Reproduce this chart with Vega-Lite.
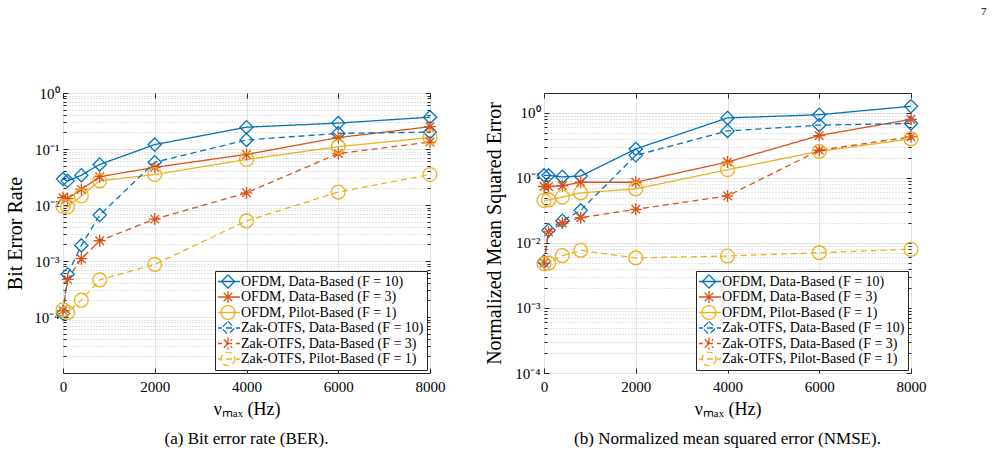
{
  "$schema": "https://vega.github.io/schema/vega-lite/v6.json",
  "background": "white",
  "padding": {"left": 4, "top": 5, "right": 5, "bottom": 5},
  "title": {"text": "7", "anchor": "end", "fontSize": 11, "font": "Liberation Serif", "fontWeight": "normal", "color": "black", "dx": 60, "offset": 69},
  "datasets": {
    "ber": [
      {"s": "OFDM, Data-Based (F = 10)", "x": 0, "v": 0.029},
      {"s": "OFDM, Data-Based (F = 10)", "x": 100, "v": 0.027},
      {"s": "OFDM, Data-Based (F = 10)", "x": 400, "v": 0.034},
      {"s": "OFDM, Data-Based (F = 10)", "x": 800, "v": 0.053},
      {"s": "OFDM, Data-Based (F = 10)", "x": 2000, "v": 0.12},
      {"s": "OFDM, Data-Based (F = 10)", "x": 4000, "v": 0.245},
      {"s": "OFDM, Data-Based (F = 10)", "x": 6000, "v": 0.29},
      {"s": "OFDM, Data-Based (F = 10)", "x": 8000, "v": 0.37},
      {"s": "OFDM, Data-Based (F = 3)", "x": 0, "v": 0.0135},
      {"s": "OFDM, Data-Based (F = 3)", "x": 100, "v": 0.013},
      {"s": "OFDM, Data-Based (F = 3)", "x": 400, "v": 0.019},
      {"s": "OFDM, Data-Based (F = 3)", "x": 800, "v": 0.032},
      {"s": "OFDM, Data-Based (F = 3)", "x": 2000, "v": 0.047},
      {"s": "OFDM, Data-Based (F = 3)", "x": 4000, "v": 0.08},
      {"s": "OFDM, Data-Based (F = 3)", "x": 6000, "v": 0.16},
      {"s": "OFDM, Data-Based (F = 3)", "x": 8000, "v": 0.25},
      {"s": "OFDM, Pilot-Based (F = 1)", "x": 0, "v": 0.0095},
      {"s": "OFDM, Pilot-Based (F = 1)", "x": 100, "v": 0.0093},
      {"s": "OFDM, Pilot-Based (F = 1)", "x": 400, "v": 0.0145},
      {"s": "OFDM, Pilot-Based (F = 1)", "x": 800, "v": 0.027},
      {"s": "OFDM, Pilot-Based (F = 1)", "x": 2000, "v": 0.035},
      {"s": "OFDM, Pilot-Based (F = 1)", "x": 4000, "v": 0.065},
      {"s": "OFDM, Pilot-Based (F = 1)", "x": 6000, "v": 0.11},
      {"s": "OFDM, Pilot-Based (F = 1)", "x": 8000, "v": 0.16},
      {"s": "Zak-OTFS, Data-Based (F = 10)", "x": 0, "v": 0.000115},
      {"s": "Zak-OTFS, Data-Based (F = 10)", "x": 100, "v": 0.00058},
      {"s": "Zak-OTFS, Data-Based (F = 10)", "x": 400, "v": 0.0019},
      {"s": "Zak-OTFS, Data-Based (F = 10)", "x": 800, "v": 0.0066},
      {"s": "Zak-OTFS, Data-Based (F = 10)", "x": 2000, "v": 0.058},
      {"s": "Zak-OTFS, Data-Based (F = 10)", "x": 4000, "v": 0.145},
      {"s": "Zak-OTFS, Data-Based (F = 10)", "x": 6000, "v": 0.19},
      {"s": "Zak-OTFS, Data-Based (F = 10)", "x": 8000, "v": 0.2},
      {"s": "Zak-OTFS, Data-Based (F = 3)", "x": 0, "v": 0.00013},
      {"s": "Zak-OTFS, Data-Based (F = 3)", "x": 100, "v": 0.00047},
      {"s": "Zak-OTFS, Data-Based (F = 3)", "x": 400, "v": 0.0011},
      {"s": "Zak-OTFS, Data-Based (F = 3)", "x": 800, "v": 0.0023},
      {"s": "Zak-OTFS, Data-Based (F = 3)", "x": 2000, "v": 0.0056},
      {"s": "Zak-OTFS, Data-Based (F = 3)", "x": 4000, "v": 0.0165},
      {"s": "Zak-OTFS, Data-Based (F = 3)", "x": 6000, "v": 0.083},
      {"s": "Zak-OTFS, Data-Based (F = 3)", "x": 8000, "v": 0.133},
      {"s": "Zak-OTFS, Pilot-Based (F = 1)", "x": 0, "v": 0.000135},
      {"s": "Zak-OTFS, Pilot-Based (F = 1)", "x": 100, "v": 0.00012},
      {"s": "Zak-OTFS, Pilot-Based (F = 1)", "x": 400, "v": 0.0002},
      {"s": "Zak-OTFS, Pilot-Based (F = 1)", "x": 800, "v": 0.00046},
      {"s": "Zak-OTFS, Pilot-Based (F = 1)", "x": 2000, "v": 0.00087},
      {"s": "Zak-OTFS, Pilot-Based (F = 1)", "x": 4000, "v": 0.0052},
      {"s": "Zak-OTFS, Pilot-Based (F = 1)", "x": 6000, "v": 0.017},
      {"s": "Zak-OTFS, Pilot-Based (F = 1)", "x": 8000, "v": 0.035}
    ],
    "nmse": [
      {"s": "OFDM, Data-Based (F = 10)", "x": 0, "v": 0.11},
      {"s": "OFDM, Data-Based (F = 10)", "x": 100, "v": 0.11},
      {"s": "OFDM, Data-Based (F = 10)", "x": 400, "v": 0.104},
      {"s": "OFDM, Data-Based (F = 10)", "x": 800, "v": 0.107},
      {"s": "OFDM, Data-Based (F = 10)", "x": 2000, "v": 0.28},
      {"s": "OFDM, Data-Based (F = 10)", "x": 4000, "v": 0.84},
      {"s": "OFDM, Data-Based (F = 10)", "x": 6000, "v": 0.94},
      {"s": "OFDM, Data-Based (F = 10)", "x": 8000, "v": 1.27},
      {"s": "OFDM, Data-Based (F = 3)", "x": 0, "v": 0.074},
      {"s": "OFDM, Data-Based (F = 3)", "x": 100, "v": 0.074},
      {"s": "OFDM, Data-Based (F = 3)", "x": 400, "v": 0.076},
      {"s": "OFDM, Data-Based (F = 3)", "x": 800, "v": 0.086},
      {"s": "OFDM, Data-Based (F = 3)", "x": 2000, "v": 0.086},
      {"s": "OFDM, Data-Based (F = 3)", "x": 4000, "v": 0.176},
      {"s": "OFDM, Data-Based (F = 3)", "x": 6000, "v": 0.45},
      {"s": "OFDM, Data-Based (F = 3)", "x": 8000, "v": 0.8},
      {"s": "OFDM, Pilot-Based (F = 1)", "x": 0, "v": 0.045},
      {"s": "OFDM, Pilot-Based (F = 1)", "x": 100, "v": 0.046},
      {"s": "OFDM, Pilot-Based (F = 1)", "x": 400, "v": 0.051},
      {"s": "OFDM, Pilot-Based (F = 1)", "x": 800, "v": 0.059},
      {"s": "OFDM, Pilot-Based (F = 1)", "x": 2000, "v": 0.068},
      {"s": "OFDM, Pilot-Based (F = 1)", "x": 4000, "v": 0.134},
      {"s": "OFDM, Pilot-Based (F = 1)", "x": 6000, "v": 0.257},
      {"s": "OFDM, Pilot-Based (F = 1)", "x": 8000, "v": 0.4},
      {"s": "Zak-OTFS, Data-Based (F = 10)", "x": 0, "v": 0.0052},
      {"s": "Zak-OTFS, Data-Based (F = 10)", "x": 100, "v": 0.0157},
      {"s": "Zak-OTFS, Data-Based (F = 10)", "x": 400, "v": 0.022},
      {"s": "Zak-OTFS, Data-Based (F = 10)", "x": 800, "v": 0.0318},
      {"s": "Zak-OTFS, Data-Based (F = 10)", "x": 2000, "v": 0.223},
      {"s": "Zak-OTFS, Data-Based (F = 10)", "x": 4000, "v": 0.53},
      {"s": "Zak-OTFS, Data-Based (F = 10)", "x": 6000, "v": 0.65},
      {"s": "Zak-OTFS, Data-Based (F = 10)", "x": 8000, "v": 0.69},
      {"s": "Zak-OTFS, Data-Based (F = 3)", "x": 0, "v": 0.0049},
      {"s": "Zak-OTFS, Data-Based (F = 3)", "x": 100, "v": 0.0148},
      {"s": "Zak-OTFS, Data-Based (F = 3)", "x": 400, "v": 0.0203},
      {"s": "Zak-OTFS, Data-Based (F = 3)", "x": 800, "v": 0.0245},
      {"s": "Zak-OTFS, Data-Based (F = 3)", "x": 2000, "v": 0.033},
      {"s": "Zak-OTFS, Data-Based (F = 3)", "x": 4000, "v": 0.053},
      {"s": "Zak-OTFS, Data-Based (F = 3)", "x": 6000, "v": 0.267},
      {"s": "Zak-OTFS, Data-Based (F = 3)", "x": 8000, "v": 0.43},
      {"s": "Zak-OTFS, Pilot-Based (F = 1)", "x": 0, "v": 0.0048},
      {"s": "Zak-OTFS, Pilot-Based (F = 1)", "x": 100, "v": 0.0049},
      {"s": "Zak-OTFS, Pilot-Based (F = 1)", "x": 400, "v": 0.0064},
      {"s": "Zak-OTFS, Pilot-Based (F = 1)", "x": 800, "v": 0.0077},
      {"s": "Zak-OTFS, Pilot-Based (F = 1)", "x": 2000, "v": 0.0059},
      {"s": "Zak-OTFS, Pilot-Based (F = 1)", "x": 4000, "v": 0.0063},
      {"s": "Zak-OTFS, Pilot-Based (F = 1)", "x": 6000, "v": 0.0071},
      {"s": "Zak-OTFS, Pilot-Based (F = 1)", "x": 8000, "v": 0.008}
    ]
  },
  "spacing": 37,
  "hconcat": [
    {
      "width": 367,
      "height": 280,
      "data": {"name": "ber"},
      "title": {"text": "(a) Bit error rate (BER).", "orient": "bottom", "anchor": "middle", "frame": "group", "fontSize": 17, "font": "Liberation Serif", "fontWeight": "normal", "color": "black", "offset": 13},
      "layer": [
        {
          "mark": {"type": "line", "strokeWidth": 1.3, "clip": false},
          "encoding": {
            "x": {"field": "x", "type": "quantitative", "scale": {"domain": [0, 8000], "nice": false, "zero": false},
              "axis": {"orient": "bottom", "values": [0, 2000, 4000, 6000, 8000], "format": "d", "title": "νₘₐₓ (Hz)", "grid": true, "gridColor": "#e3e3e3", "tickSize": -5, "labelPadding": 11, "titlePadding": 6, "labelFont": "Liberation Serif", "titleFont": "Liberation Serif"}},
            "y": {"field": "v", "type": "quantitative", "scale": {"type": "log", "domain": [0.00001, 1], "nice": false},
              "axis": {"orient": "left", "title": "Bit Error Rate", "labelFont": "Liberation Serif", "titleFont": "Liberation Serif", "titleFontSize": 20,
                "values": [0.00002, 0.00003, 0.00004, 0.00005, 0.00006, 0.00007, 0.00008, 0.00009, 0.0001, 0.0002, 0.0003, 0.0004, 0.0005, 0.0006, 0.0007, 0.0008, 0.0009, 0.001, 0.002, 0.003, 0.004, 0.005, 0.006, 0.007, 0.008, 0.009, 0.01, 0.02, 0.03, 0.04, 0.05, 0.06, 0.07, 0.08, 0.09, 0.1, 0.2, 0.3, 0.4, 0.5, 0.6, 0.7, 0.8, 0.9, 1],
                "labelExpr": "datum.value == 1 ? '10⁰' : datum.value == 0.1 ? '10⁻¹' : datum.value == 0.01 ? '10⁻²' : datum.value == 0.001 ? '10⁻³' : datum.value == 0.0001 ? '10⁻⁴' : ''",
                "grid": true,
                "gridColor": {"condition": {"test": "abs(log(datum.value)/LN10 - round(log(datum.value)/LN10)) < 0.001", "value": "#e3e3e3"}, "value": "#c8c8c8"},
                "gridDash": {"condition": {"test": "abs(log(datum.value)/LN10 - round(log(datum.value)/LN10)) < 0.001", "value": []}, "value": [1, 2]},
                "tickSize": {"condition": {"test": "abs(log(datum.value)/LN10 - round(log(datum.value)/LN10)) < 0.001", "value": -5}, "value": -3},
                "labelPadding": 9, "minExtent": 28, "maxExtent": 28, "titlePadding": 10}},
            "color": {"field": "s", "type": "nominal",
              "scale": {"domain": ["OFDM, Data-Based (F = 10)", "OFDM, Data-Based (F = 3)", "OFDM, Pilot-Based (F = 1)", "Zak-OTFS, Data-Based (F = 10)", "Zak-OTFS, Data-Based (F = 3)", "Zak-OTFS, Pilot-Based (F = 1)"], "range": ["#0072BD", "#D95319", "#EDB120", "#0072BD", "#D95319", "#EDB120"]},
              "legend": {"title": null, "orient": "bottom-right", "offset": 3, "labelFont": "Liberation Serif",
                "encode": {"symbols": {"update": {"fill": {"value": "transparent"}, "strokeWidth": {"value": 1.3}}}}}},
            "strokeDash": {"field": "s", "type": "nominal",
              "scale": {"domain": ["OFDM, Data-Based (F = 10)", "OFDM, Data-Based (F = 3)", "OFDM, Pilot-Based (F = 1)", "Zak-OTFS, Data-Based (F = 10)", "Zak-OTFS, Data-Based (F = 3)", "Zak-OTFS, Pilot-Based (F = 1)"], "range": [[1, 0], [1, 0], [1, 0], [6, 4], [6, 4], [6, 4]]},
              "legend": {"title": null, "orient": "bottom-right", "offset": 3, "labelFont": "Liberation Serif",
                "encode": {"symbols": {"update": {"fill": {"value": "transparent"}, "strokeWidth": {"value": 1.3}}}}}}
          }
        },
        {
          "transform": [{"filter": "indexof(datum.s, '10)') > 0"}],
          "mark": {"type": "point", "filled": false, "strokeWidth": 1.3, "opacity": 1, "size": 144, "clip": false, "shape": "M0,-1.1L1.1,0L0,1.1L-1.1,0Z"},
          "encoding": {
            "x": {"field": "x", "type": "quantitative",
              "axis": {"orient": "top", "values": [0, 2000, 4000, 6000, 8000], "labels": false, "title": null, "grid": false, "tickSize": -5}},
            "y": {"field": "v", "type": "quantitative",
              "axis": {"orient": "right", "title": null, "labels": false, "grid": false,
                "values": [0.00002, 0.00003, 0.00004, 0.00005, 0.00006, 0.00007, 0.00008, 0.00009, 0.0001, 0.0002, 0.0003, 0.0004, 0.0005, 0.0006, 0.0007, 0.0008, 0.0009, 0.001, 0.002, 0.003, 0.004, 0.005, 0.006, 0.007, 0.008, 0.009, 0.01, 0.02, 0.03, 0.04, 0.05, 0.06, 0.07, 0.08, 0.09, 0.1, 0.2, 0.3, 0.4, 0.5, 0.6, 0.7, 0.8, 0.9, 1],
                "tickSize": {"condition": {"test": "abs(log(datum.value)/LN10 - round(log(datum.value)/LN10)) < 0.001", "value": -5}, "value": -3}}},
            "color": {"field": "s", "type": "nominal"}
          }
        },
        {
          "transform": [{"filter": "indexof(datum.s, '3)') > 0"}],
          "mark": {"type": "point", "filled": false, "strokeWidth": 1.3, "opacity": 1, "size": 144, "clip": false, "shape": "M0,-1V1M-1,0H1M-0.71,-0.71L0.71,0.71M-0.71,0.71L0.71,-0.71"},
          "encoding": {
            "x": {"field": "x", "type": "quantitative", "axis": null},
            "y": {"field": "v", "type": "quantitative", "axis": null},
            "color": {"field": "s", "type": "nominal"}
          }
        },
        {
          "transform": [{"filter": "indexof(datum.s, '1)') > 0 && indexof(datum.s, '10)') < 0"}],
          "mark": {"type": "point", "filled": false, "strokeWidth": 1.3, "opacity": 1, "size": 144, "clip": false, "shape": "M1.15,0A1.15,1.15,0,1,1,-1.15,0A1.15,1.15,0,1,1,1.15,0Z"},
          "encoding": {
            "x": {"field": "x", "type": "quantitative", "axis": null},
            "y": {"field": "v", "type": "quantitative", "axis": null},
            "color": {"field": "s", "type": "nominal"}
          }
        },
        {
          "transform": [{"filter": "false"}],
          "mark": {"type": "point", "filled": false, "strokeWidth": 1.3, "size": 144, "clip": false},
          "encoding": {
            "x": {"field": "x", "type": "quantitative", "axis": null},
            "y": {"field": "v", "type": "quantitative", "axis": null},
            "color": {"field": "s", "type": "nominal"},
            "shape": {"field": "s", "type": "nominal",
              "scale": {"domain": ["OFDM, Data-Based (F = 10)", "OFDM, Data-Based (F = 3)", "OFDM, Pilot-Based (F = 1)", "Zak-OTFS, Data-Based (F = 10)", "Zak-OTFS, Data-Based (F = 3)", "Zak-OTFS, Pilot-Based (F = 1)"], "range": ["M-2,0H2M0,-1.1L1.1,0L0,1.1L-1.1,0Z", "M-2,0H2M0,-1V1M-0.71,-0.71L0.71,0.71M-0.71,0.71L0.71,-0.71", "M-2,0H2M1.15,0A1.15,1.15,0,1,1,-1.15,0A1.15,1.15,0,1,1,1.15,0Z", "M-2,0H2M0,-1.1L1.1,0L0,1.1L-1.1,0Z", "M-2,0H2M0,-1V1M-0.71,-0.71L0.71,0.71M-0.71,0.71L0.71,-0.71", "M-2,0H2M1.15,0A1.15,1.15,0,1,1,-1.15,0A1.15,1.15,0,1,1,1.15,0Z"]},
              "legend": {"title": null, "orient": "bottom-right", "offset": 3, "labelFont": "Liberation Serif",
                "encode": {"symbols": {"update": {"fill": {"value": "transparent"}, "strokeWidth": {"value": 1.3}}}}}}
          }
        }
      ],
      "resolve": {"axis": {"x": "independent", "y": "independent"}}
    },
    {
      "width": 367,
      "height": 280,
      "data": {"name": "nmse"},
      "title": {"text": "(b) Normalized mean squared error (NMSE).", "orient": "bottom", "anchor": "middle", "frame": "group", "fontSize": 17, "font": "Liberation Serif", "fontWeight": "normal", "color": "black", "offset": 13},
      "layer": [
        {
          "mark": {"type": "line", "strokeWidth": 1.3, "clip": false},
          "encoding": {
            "x": {"field": "x", "type": "quantitative", "scale": {"domain": [0, 8000], "nice": false, "zero": false},
              "axis": {"orient": "bottom", "values": [0, 2000, 4000, 6000, 8000], "format": "d", "title": "νₘₐₓ (Hz)", "grid": true, "gridColor": "#e3e3e3", "tickSize": -5, "labelPadding": 11, "titlePadding": 6, "labelFont": "Liberation Serif", "titleFont": "Liberation Serif"}},
            "y": {"field": "v", "type": "quantitative", "scale": {"type": "log", "domain": [0.0001, 2.03], "nice": false},
              "axis": {"orient": "left", "title": "Normalized Mean Squared Error", "labelFont": "Liberation Serif", "titleFont": "Liberation Serif", "titleFontSize": 20,
                "values": [0.0001, 0.0002, 0.0003, 0.0004, 0.0005, 0.0006, 0.0007, 0.0008, 0.0009, 0.001, 0.002, 0.003, 0.004, 0.005, 0.006, 0.007, 0.008, 0.009, 0.01, 0.02, 0.03, 0.04, 0.05, 0.06, 0.07, 0.08, 0.09, 0.1, 0.2, 0.3, 0.4, 0.5, 0.6, 0.7, 0.8, 0.9, 1],
                "labelExpr": "datum.value == 1 ? '10⁰' : datum.value == 0.1 ? '10⁻¹' : datum.value == 0.01 ? '10⁻²' : datum.value == 0.001 ? '10⁻³' : datum.value == 0.0001 ? '10⁻⁴' : ''",
                "grid": true,
                "gridColor": {"condition": {"test": "abs(log(datum.value)/LN10 - round(log(datum.value)/LN10)) < 0.001", "value": "#e3e3e3"}, "value": "#c8c8c8"},
                "gridDash": {"condition": {"test": "abs(log(datum.value)/LN10 - round(log(datum.value)/LN10)) < 0.001", "value": []}, "value": [1, 2]},
                "tickSize": {"condition": {"test": "abs(log(datum.value)/LN10 - round(log(datum.value)/LN10)) < 0.001", "value": -5}, "value": -3},
                "labelPadding": 9, "minExtent": 28, "maxExtent": 28, "titlePadding": 12}},
            "color": {"field": "s", "type": "nominal",
              "scale": {"domain": ["OFDM, Data-Based (F = 10)", "OFDM, Data-Based (F = 3)", "OFDM, Pilot-Based (F = 1)", "Zak-OTFS, Data-Based (F = 10)", "Zak-OTFS, Data-Based (F = 3)", "Zak-OTFS, Pilot-Based (F = 1)"], "range": ["#0072BD", "#D95319", "#EDB120", "#0072BD", "#D95319", "#EDB120"]},
              "legend": {"title": null, "orient": "bottom-right", "offset": 3, "labelFont": "Liberation Serif",
                "encode": {"symbols": {"update": {"fill": {"value": "transparent"}, "strokeWidth": {"value": 1.3}}}}}},
            "strokeDash": {"field": "s", "type": "nominal",
              "scale": {"domain": ["OFDM, Data-Based (F = 10)", "OFDM, Data-Based (F = 3)", "OFDM, Pilot-Based (F = 1)", "Zak-OTFS, Data-Based (F = 10)", "Zak-OTFS, Data-Based (F = 3)", "Zak-OTFS, Pilot-Based (F = 1)"], "range": [[1, 0], [1, 0], [1, 0], [6, 4], [6, 4], [6, 4]]},
              "legend": {"title": null, "orient": "bottom-right", "offset": 3, "labelFont": "Liberation Serif",
                "encode": {"symbols": {"update": {"fill": {"value": "transparent"}, "strokeWidth": {"value": 1.3}}}}}}
          }
        },
        {
          "transform": [{"filter": "indexof(datum.s, '10)') > 0"}],
          "mark": {"type": "point", "filled": false, "strokeWidth": 1.3, "opacity": 1, "size": 144, "clip": false, "shape": "M0,-1.1L1.1,0L0,1.1L-1.1,0Z"},
          "encoding": {
            "x": {"field": "x", "type": "quantitative",
              "axis": {"orient": "top", "values": [0, 2000, 4000, 6000, 8000], "labels": false, "title": null, "grid": false, "tickSize": -5}},
            "y": {"field": "v", "type": "quantitative",
              "axis": {"orient": "right", "title": null, "labels": false, "grid": false,
                "values": [0.0001, 0.0002, 0.0003, 0.0004, 0.0005, 0.0006, 0.0007, 0.0008, 0.0009, 0.001, 0.002, 0.003, 0.004, 0.005, 0.006, 0.007, 0.008, 0.009, 0.01, 0.02, 0.03, 0.04, 0.05, 0.06, 0.07, 0.08, 0.09, 0.1, 0.2, 0.3, 0.4, 0.5, 0.6, 0.7, 0.8, 0.9, 1],
                "tickSize": {"condition": {"test": "abs(log(datum.value)/LN10 - round(log(datum.value)/LN10)) < 0.001", "value": -5}, "value": -3}}},
            "color": {"field": "s", "type": "nominal"}
          }
        },
        {
          "transform": [{"filter": "indexof(datum.s, '3)') > 0"}],
          "mark": {"type": "point", "filled": false, "strokeWidth": 1.3, "opacity": 1, "size": 144, "clip": false, "shape": "M0,-1V1M-1,0H1M-0.71,-0.71L0.71,0.71M-0.71,0.71L0.71,-0.71"},
          "encoding": {
            "x": {"field": "x", "type": "quantitative", "axis": null},
            "y": {"field": "v", "type": "quantitative", "axis": null},
            "color": {"field": "s", "type": "nominal"}
          }
        },
        {
          "transform": [{"filter": "indexof(datum.s, '1)') > 0 && indexof(datum.s, '10)') < 0"}],
          "mark": {"type": "point", "filled": false, "strokeWidth": 1.3, "opacity": 1, "size": 144, "clip": false, "shape": "M1.15,0A1.15,1.15,0,1,1,-1.15,0A1.15,1.15,0,1,1,1.15,0Z"},
          "encoding": {
            "x": {"field": "x", "type": "quantitative", "axis": null},
            "y": {"field": "v", "type": "quantitative", "axis": null},
            "color": {"field": "s", "type": "nominal"}
          }
        },
        {
          "transform": [{"filter": "false"}],
          "mark": {"type": "point", "filled": false, "strokeWidth": 1.3, "size": 144, "clip": false},
          "encoding": {
            "x": {"field": "x", "type": "quantitative", "axis": null},
            "y": {"field": "v", "type": "quantitative", "axis": null},
            "color": {"field": "s", "type": "nominal"},
            "shape": {"field": "s", "type": "nominal",
              "scale": {"domain": ["OFDM, Data-Based (F = 10)", "OFDM, Data-Based (F = 3)", "OFDM, Pilot-Based (F = 1)", "Zak-OTFS, Data-Based (F = 10)", "Zak-OTFS, Data-Based (F = 3)", "Zak-OTFS, Pilot-Based (F = 1)"], "range": ["M-2,0H2M0,-1.1L1.1,0L0,1.1L-1.1,0Z", "M-2,0H2M0,-1V1M-0.71,-0.71L0.71,0.71M-0.71,0.71L0.71,-0.71", "M-2,0H2M1.15,0A1.15,1.15,0,1,1,-1.15,0A1.15,1.15,0,1,1,1.15,0Z", "M-2,0H2M0,-1.1L1.1,0L0,1.1L-1.1,0Z", "M-2,0H2M0,-1V1M-0.71,-0.71L0.71,0.71M-0.71,0.71L0.71,-0.71", "M-2,0H2M1.15,0A1.15,1.15,0,1,1,-1.15,0A1.15,1.15,0,1,1,1.15,0Z"]},
              "legend": {"title": null, "orient": "bottom-right", "offset": 3, "labelFont": "Liberation Serif",
                "encode": {"symbols": {"update": {"fill": {"value": "transparent"}, "strokeWidth": {"value": 1.3}}}}}}
          }
        }
      ],
      "resolve": {"axis": {"x": "independent", "y": "independent"}}
    }
  ],
  "resolve": {
    "scale": {"color": "independent", "shape": "independent", "strokeDash": "independent"},
    "legend": {"color": "independent", "shape": "independent", "strokeDash": "independent"}
  },
  "config": {
    "font": "Liberation Serif",
    "view": {"stroke": "#262626", "strokeWidth": 1},
    "axis": {"labelFont": "Liberation Serif", "labelFontSize": 15, "labelColor": "black", "titleFont": "Liberation Serif", "titleFontSize": 18, "titleFontWeight": "normal", "titleColor": "black", "domain": false, "tickColor": "#262626", "tickWidth": 1, "labelFlush": false, "labelOverlap": false, "labelBound": false},
    "legend": {"labelFont": "Liberation Serif", "labelFontSize": 14, "labelColor": "black", "labelLimit": 400, "strokeColor": "#262626", "fillColor": "white", "padding": 3, "rowPadding": 0.5, "clipHeight": 15, "symbolSize": 144, "symbolStrokeWidth": 1.3, "symbolOffset": 3, "labelOffset": 6, "cornerRadius": 0}
  }
}
